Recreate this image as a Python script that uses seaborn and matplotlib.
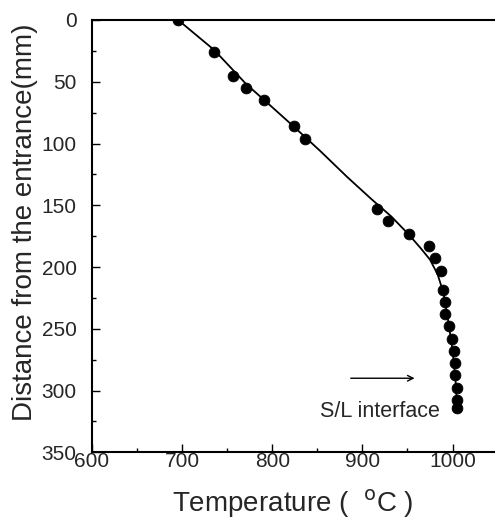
import numpy as np
import pandas as pd
import seaborn as sns
import matplotlib.pyplot as plt
from matplotlib.ticker import MultipleLocator

# measured points
temp = [695.9, 735.6, 756.3, 771.0, 791.0, 823.7, 836.7,
        916.3, 928.1, 951.4, 974.4, 980.0, 987.4, 989.2, 991.1,
        991.4, 996.3, 999.7, 1001.9, 1002.2, 1002.2, 1004.4, 1005.2, 1005.2]
dist = [0, 26.2, 45.6, 54.8, 65.1, 85.9, 96.4,
        153.1, 162.8, 173.1, 183.3, 193.0, 203.1, 218.2, 228.2,
        238.2, 247.9, 257.9, 268.2, 277.6, 287.6, 297.9, 307.9, 314.1]

# fitted curve
fit_temp = [695.6, 735.6, 771.1, 791.1, 823.3, 853.3, 883.0, 910.0, 932.0,
            951.1, 964.4, 975.0, 983.5, 990.0, 995.6, 1000.0, 1003.3, 1005.0]
fit_dist = [0, 24.3, 51.9, 64.8, 85.9, 106.1, 127.0, 145.0, 159.0,
            173.4, 184.5, 194.0, 206.0, 221.2, 245.5, 267.4, 291.7, 311.9]

pts = pd.DataFrame({"T": temp, "d": dist})
fit = pd.DataFrame({"T": fit_temp, "d": fit_dist})

sns.set_style("ticks")
plt.rcParams['font.family'] = ['Liberation Sans', 'DejaVu Sans']

fig = plt.figure(figsize=(4.97, 5.26), dpi=100)
ax = fig.add_axes([0.185, 0.140, 0.809, 0.822])

sns.lineplot(data=fit, x="T", y="d", sort=False, color="black", lw=1.3, ax=ax)
sns.scatterplot(data=pts, x="T", y="d", color="black", s=60, edgecolor="black", ax=ax, zorder=3)

ax.set_xlim(600, 1046)
ax.set_ylim(350, 0)
ax.xaxis.set_major_locator(MultipleLocator(100))
ax.xaxis.set_minor_locator(MultipleLocator(50))
ax.yaxis.set_major_locator(MultipleLocator(50))
ax.yaxis.set_minor_locator(MultipleLocator(25))
ax.tick_params(which="major", direction="in", length=6, width=1, labelsize=15, color="black")
ax.tick_params(which="minor", direction="in", length=3, width=1, color="black")
ax.tick_params(axis="y", pad=11)
ax.tick_params(axis="x", pad=0)
ax.spines["right"].set_visible(False)
for s in ["left", "bottom", "top"]:
    ax.spines[s].set_linewidth(1.5)
    ax.spines[s].set_color("black")

ax.set_xlabel("Temperature (  $^{\\rm o}$C )", fontsize=20, labelpad=12)
ax.set_ylabel("Distance from the entrance(mm)", fontsize=20)
ax.yaxis.set_label_coords(-0.134, 0.533)

ax.annotate("", xy=(961, 290), xytext=(884, 290),
            arrowprops=dict(arrowstyle="->", color="black", lw=1))
ax.text(853, 317, "S/L interface", fontsize=15.5, va="center", ha="left")

fig.savefig("out.png", dpi=100)
